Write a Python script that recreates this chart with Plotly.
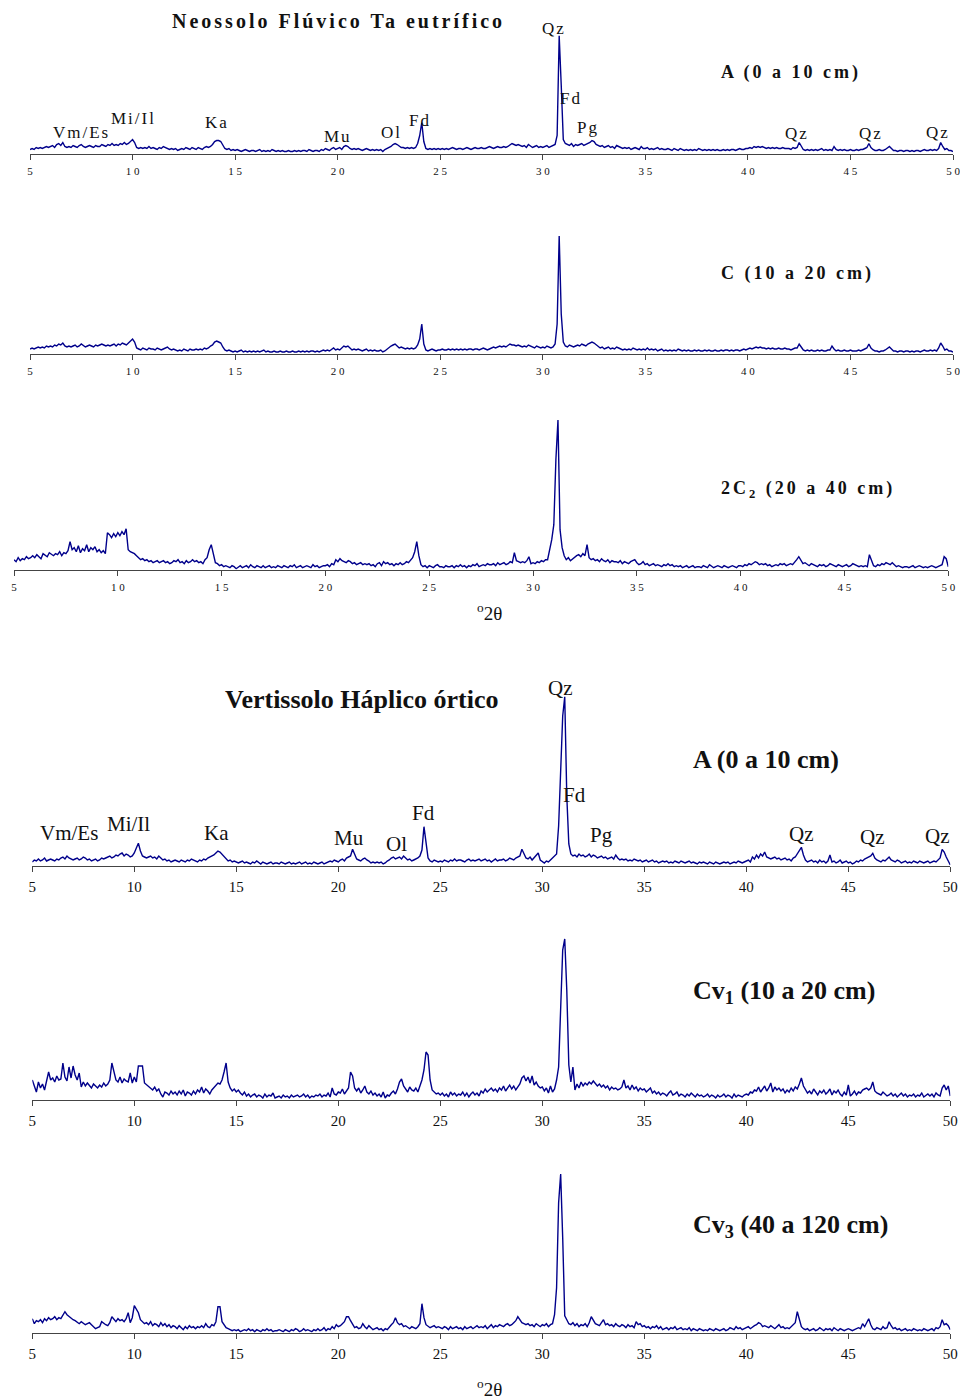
import plotly.graph_objects as go

# Scan grid: 5 to 50 degrees 2-theta, 0.1 degree step
two_theta = [round(5 + 0.1 * i, 1) for i in range(451)]
tick_values = [5, 10, 15, 20, 25, 30, 35, 40, 45, 50]

# Intensities (arbitrary units), one row per degree (x.0 ... x.9), last value = 50.0
neossolo_a = [
    4, 5, 4, 6, 5, 6, 5, 6, 7, 6,
    7, 8, 6, 9, 10, 8, 11, 7, 6, 7,
    6, 8, 7, 6, 8, 9, 7, 6, 7, 8,
    7, 6, 8, 7, 7, 9, 8, 7, 9, 8,
    10, 8, 9, 8, 10, 9, 11, 9, 10, 12,
    14, 11, 6, 5, 6, 5, 6, 5, 7, 5,
    6, 5, 4, 6, 5, 7, 6, 5, 4, 5,
    4, 5, 3, 4, 5, 4, 6, 5, 4, 6,
    5, 4, 6, 5, 4, 6, 7, 6, 7, 9,
    12, 13, 13, 12, 8, 5, 4, 5, 3, 4,
    3, 4, 3, 2, 3, 4, 3, 2, 3, 3,
    2, 3, 4, 2, 3, 2, 3, 2, 4, 3,
    2, 3, 2, 3, 2, 2, 3, 2, 2, 3,
    2, 3, 2, 3, 3, 2, 4, 3, 2, 3,
    3, 2, 4, 3, 5, 4, 3, 5, 6, 4,
    5, 6, 4, 7, 8, 7, 5, 4, 5, 4,
    5, 4, 3, 4, 5, 4, 3, 4, 3, 4,
    3, 4, 2, 4, 5, 6, 7, 9, 10, 9,
    7, 6, 6, 5, 6, 5, 6, 5, 6, 10,
    18, 31, 12, 5, 4, 5, 4, 5, 4, 5,
    4, 5, 4, 5, 4, 5, 6, 5, 4, 5,
    5, 4, 5, 6, 5, 4, 5, 6, 5, 5,
    6, 5, 5, 6, 7, 6, 5, 6, 7, 6,
    6, 7, 6, 7, 9, 10, 9, 8, 9, 8,
    7, 8, 6, 9, 7, 6, 7, 8, 6, 7,
    6, 7, 8, 6, 7, 8, 9, 18, 117.7, 68,
    14, 10, 9, 8, 10, 7, 9, 8, 9, 10,
    8, 9, 10, 11, 13, 12, 9, 8, 7, 8,
    6, 7, 8, 6, 7, 5, 8, 7, 6, 5,
    6, 5, 6, 4, 5, 6, 5, 4, 7, 5,
    5, 6, 4, 5, 4, 5, 6, 4, 5, 4,
    4, 5, 4, 3, 5, 4, 3, 5, 4, 3,
    4, 3, 4, 3, 4, 3, 5, 4, 3, 4,
    3, 4, 3, 4, 3, 4, 3, 3, 4, 3,
    4, 3, 4, 4, 3, 4, 5, 4, 4, 5,
    5, 6, 5, 7, 6, 7, 6, 7, 6, 5,
    6, 5, 6, 5, 6, 5, 5, 6, 5, 5,
    5, 4, 6, 5, 6, 11, 7, 4, 3, 4,
    3, 4, 3, 4, 3, 4, 5, 3, 4, 3,
    4, 3, 7, 4, 3, 4, 3, 4, 3, 3,
    4, 3, 3, 4, 3, 4, 4, 5, 6, 10,
    6, 4, 3, 3, 4, 3, 3, 4, 6, 7,
    5, 3, 3, 2, 3, 3, 2, 3, 3, 2,
    3, 2, 3, 3, 2, 3, 4, 3, 3, 4,
    3, 4, 3, 5, 11, 7, 4, 5, 3, 3,
    2,
]

neossolo_c = [
    5, 6, 5, 6, 7, 6, 7, 6, 8, 7,
    8, 7, 9, 8, 10, 9, 11, 8, 7, 8,
    7, 8, 9, 7, 8, 10, 8, 7, 8, 9,
    8, 7, 9, 8, 9, 10, 9, 8, 9, 8,
    9, 10, 8, 10, 9, 11, 10, 9, 11, 13,
    15, 12, 6, 5, 4, 6, 5, 4, 6, 5,
    5, 4, 6, 5, 4, 5, 6, 7, 5, 4,
    5, 4, 3, 4, 3, 5, 4, 3, 5, 4,
    4, 5, 4, 5, 4, 6, 5, 6, 8, 9,
    12, 13, 12, 11, 7, 4, 3, 4, 3, 2,
    3, 2, 3, 4, 2, 3, 2, 3, 2, 3,
    2, 3, 2, 3, 4, 2, 3, 2, 2, 3,
    2, 2, 3, 2, 2, 3, 2, 2, 3, 2,
    2, 3, 2, 3, 2, 3, 2, 3, 3, 2,
    3, 2, 3, 4, 3, 4, 3, 5, 6, 4,
    5, 4, 6, 8, 7, 8, 6, 4, 5, 4,
    5, 4, 3, 4, 5, 3, 4, 3, 4, 3,
    3, 4, 2, 3, 5, 6, 8, 9, 10, 8,
    6, 7, 6, 5, 6, 5, 6, 5, 6, 9,
    15, 30, 10, 4, 3, 4, 5, 4, 3, 4,
    4, 5, 4, 4, 5, 4, 5, 4, 5, 4,
    5, 4, 5, 4, 5, 5, 4, 5, 5, 4,
    5, 6, 5, 4, 5, 6, 7, 6, 7, 8,
    7, 8, 7, 9, 10, 9, 9, 8, 9, 8,
    7, 8, 7, 9, 8, 7, 6, 8, 7, 6,
    7, 6, 8, 7, 6, 7, 10, 30, 118, 40,
    12, 8, 7, 9, 8, 7, 8, 9, 8, 10,
    9, 8, 10, 11, 12, 11, 9, 7, 6, 7,
    5, 6, 7, 5, 6, 5, 7, 6, 5, 4,
    5, 4, 5, 4, 6, 5, 4, 5, 4, 5,
    4, 6, 4, 5, 4, 5, 3, 4, 5, 3,
    4, 3, 4, 3, 4, 3, 5, 4, 3, 4,
    3, 4, 3, 3, 4, 3, 4, 3, 3, 4,
    3, 4, 3, 3, 4, 3, 3, 4, 3, 4,
    4, 3, 4, 3, 4, 4, 3, 4, 5, 4,
    5, 6, 5, 6, 7, 6, 7, 6, 6, 5,
    6, 5, 6, 5, 5, 6, 5, 5, 6, 5,
    5, 4, 5, 6, 6, 10, 7, 4, 3, 4,
    3, 4, 3, 3, 4, 3, 4, 3, 3, 4,
    4, 8, 5, 3, 4, 3, 3, 4, 3, 3,
    4, 3, 3, 3, 4, 3, 4, 5, 6, 10,
    6, 4, 3, 3, 2, 3, 3, 4, 6, 7,
    5, 3, 3, 2, 3, 3, 2, 3, 3, 2,
    3, 2, 3, 3, 2, 3, 4, 3, 3, 4,
    3, 4, 3, 6, 11, 8, 4, 5, 3, 3,
    2,
]

neossolo_2c2 = [
    10, 8, 12, 9, 11, 10, 13, 11, 12, 14,
    12, 15, 13, 11, 16, 14, 13, 17, 15, 14,
    16, 15, 18, 14, 17, 16, 19, 28, 20, 22,
    18, 24, 17, 21, 19, 25, 18, 22, 20, 23,
    18, 20, 17, 19, 16, 37, 35, 32, 36, 33,
    37, 34, 38, 35, 41, 20, 18, 17, 16, 14,
    12, 10, 11, 9, 10, 8, 9, 7, 8, 9,
    7, 8, 9, 7, 8, 6, 7, 9, 8, 10,
    7, 8, 6, 9, 7, 8, 10, 8, 9, 7,
    8, 6, 10, 12, 20, 25, 15, 7, 6, 4,
    5, 3, 4, 3, 2, 4, 3, 1, 3, 4,
    2, 3, 4, 2, 5, 3, 2, 4, 3, 2,
    4, 2, 3, 4, 2, 3, 2, 4, 3, 2,
    4, 3, 2, 4, 3, 5, 2, 3, 4, 2,
    3, 4, 3, 2, 5, 3, 4, 2, 3, 4,
    4, 5, 3, 6, 5, 10, 8, 11, 9, 8,
    7, 9, 8, 6, 7, 5, 6, 7, 5, 6,
    5, 6, 4, 5, 3, 6, 7, 4, 8, 6,
    7, 5, 6, 4, 6, 5, 7, 5, 6, 8,
    7, 10, 12, 18, 28, 14, 5, 3, 4, 2,
    4, 3, 2, 4, 5, 3, 3, 2, 4, 3,
    3, 4, 2, 4, 3, 5, 3, 4, 2, 4,
    3, 5, 4, 6, 3, 4, 5, 4, 6, 5,
    5, 6, 4, 7, 5, 6, 7, 5, 6, 8,
    7, 17, 9, 8, 7, 8, 7, 9, 13, 6,
    7, 6, 8, 7, 9, 8, 10, 10, 20, 30,
    45, 110, 149.7, 40, 22, 14, 10, 12, 9, 11,
    12, 14, 15, 13, 16, 14, 25, 12, 10, 11,
    9, 10, 8, 11, 9, 8, 10, 7, 9, 8,
    8, 7, 9, 6, 8, 7, 6, 8, 9, 10,
    7, 5, 6, 8, 5, 6, 4, 5, 6, 4,
    5, 4, 3, 5, 4, 6, 4, 5, 3, 4,
    3, 4, 2, 3, 4, 2, 3, 4, 2, 3,
    3, 2, 4, 3, 2, 5, 3, 2, 3, 4,
    3, 2, 4, 3, 2, 3, 4, 3, 2, 4,
    4, 3, 5, 4, 6, 5, 7, 8, 7, 5,
    6, 5, 6, 4, 5, 3, 4, 5, 4, 6,
    5, 6, 4, 5, 6, 5, 7, 10, 13, 9,
    6, 7, 5, 4, 6, 5, 4, 3, 5, 4,
    5, 3, 4, 6, 5, 4, 3, 5, 4, 3,
    4, 5, 3, 4, 6, 5, 4, 3, 4, 3,
    4, 3, 15, 10, 4, 3, 5, 4, 6, 5,
    7, 6, 5, 7, 5, 3, 4, 3, 2, 3,
    3, 2, 3, 4, 2, 3, 4, 3, 2, 3,
    2, 3, 4, 3, 2, 3, 4, 5, 13, 11,
    3,
]

vertissolo_a = [
    4, 6, 5, 7, 5, 6, 8, 5, 6, 7,
    6, 5, 7, 6, 8, 9, 7, 10, 8, 7,
    6, 7, 8, 6, 7, 9, 8, 6, 7, 5,
    6, 7, 5, 6, 8, 7, 8, 9, 10, 8,
    9, 11, 10, 12, 13, 10, 12, 11, 9, 10,
    13, 18, 22.7, 15, 10, 9, 8, 9, 10, 8,
    9, 7, 10, 8, 6, 7, 5, 6, 4, 5,
    6, 5, 4, 6, 5, 4, 6, 5, 7, 6,
    5, 4, 6, 5, 7, 6, 8, 9, 10, 11,
    13, 15, 14, 12, 9, 8, 5, 6, 4, 5,
    4, 3, 4, 5, 3, 4, 3, 2, 4, 3,
    5, 3, 2, 4, 3, 2, 3, 4, 2, 3,
    3, 2, 4, 3, 2, 3, 4, 2, 3, 2,
    3, 4, 2, 3, 4, 2, 3, 2, 4, 3,
    2, 3, 4, 2, 3, 4, 5, 4, 6, 5,
    4, 6, 7, 5, 8, 9, 10, 16.7, 11, 7,
    6, 5, 7, 8, 6, 5, 3, 4, 3, 4,
    3, 4, 2, 3, 5, 6, 8, 9, 7, 8,
    9, 7, 10, 8, 6, 7, 5, 6, 7, 8,
    10, 16, 39.3, 25, 8, 5, 4, 6, 5, 4,
    5, 4, 6, 5, 4, 6, 5, 7, 5, 6,
    6, 5, 4, 6, 7, 5, 6, 5, 6, 7,
    5, 6, 7, 5, 6, 4, 6, 7, 5, 6,
    6, 7, 5, 6, 8, 7, 6, 8, 9, 10,
    16.7, 12, 8, 7, 9, 6, 8, 10, 13, 6,
    4, 3, 5, 4, 6, 8, 10, 12, 40, 95,
    150, 169.3, 70, 22, 12, 10, 11, 9, 12, 10,
    11, 9, 10, 12, 9, 11, 10, 8, 9, 10,
    8, 9, 7, 8, 9, 7, 11, 8, 6, 7,
    6, 7, 5, 6, 5, 7, 6, 5, 6, 4,
    5, 6, 4, 5, 6, 4, 5, 3, 4, 5,
    4, 5, 3, 4, 3, 5, 4, 3, 5, 4,
    3, 4, 5, 3, 4, 3, 2, 4, 3, 4,
    3, 2, 4, 3, 2, 4, 3, 2, 3, 4,
    3, 4, 2, 3, 4, 3, 5, 4, 3, 4,
    5, 6, 4, 9, 7, 11, 8, 12, 10, 14,
    9, 8, 7, 8, 9, 7, 8, 6, 7, 8,
    6, 7, 5, 8, 9, 12, 15, 18.7, 11, 6,
    4, 5, 6, 4, 5, 3, 6, 4, 5, 3,
    5, 11, 4, 5, 3, 4, 6, 3, 4, 5,
    3, 4, 2, 3, 5, 4, 6, 5, 7, 8,
    9, 10, 12.7, 8, 6, 5, 4, 6, 5, 7,
    9, 6, 5, 4, 6, 5, 3, 4, 5, 3,
    4, 3, 5, 4, 3, 5, 4, 3, 4, 5,
    3, 4, 5, 4, 6, 8, 16.7, 14, 9, 5,
    1,
]

vertissolo_cv1 = [
    20, 14, 8, 18, 12, 16, 10, 19, 28, 20,
    22, 18, 24, 20, 21, 37, 23, 19, 33, 22,
    34, 25, 20, 27, 13, 18, 14, 17, 15, 12,
    16, 14, 12, 15, 13, 17, 14, 16, 20, 37,
    27, 20, 18, 23, 17, 21, 19, 18, 27, 17,
    23, 18, 34, 34, 34, 17, 15, 13, 11, 10,
    13, 9, 11, 6, 3, 8, 7, 5, 9, 6,
    8, 5, 9, 6, 10, 4, 8, 7, 5, 9,
    6, 10, 8, 13, 7, 11, 9, 6, 10, 12,
    15, 17, 16, 20, 28, 37, 18, 12, 9, 11,
    8, 10, 7, 5, 8, 4, 6, 3, 5, 6,
    3, 5, 4, 2, 6, 3, 5, 4, 7, 2,
    3, 4, 2, 5, 3, 4, 2, 5, 3, 4,
    5, 3, 4, 6, 3, 5, 2, 4, 3, 5,
    4, 6, 3, 5, 4, 7, 3, 12, 6, 5,
    8, 7, 11, 6, 9, 12, 28, 24, 12, 9,
    12, 7, 10, 14, 8, 6, 9, 5, 7, 4,
    6, 3, 8, 2, 5, 4, 7, 9, 6, 11,
    18, 21, 14, 11, 8, 13, 10, 9, 12, 8,
    15, 20, 30, 48, 45, 20, 10, 8, 6, 7,
    5, 7, 4, 6, 3, 8, 5, 7, 4, 6,
    5, 8, 4, 7, 3, 6, 8, 5, 7, 4,
    9, 7, 11, 8, 10, 12, 9, 11, 8, 12,
    10, 14, 9, 12, 15, 11, 14, 10, 13, 16,
    22, 24, 19, 23, 17, 24, 15, 18, 14, 12,
    13, 9, 12, 7, 14, 8, 11, 20, 33, 100,
    150, 161, 110, 35, 18, 33, 10, 16, 12, 18,
    14, 17, 15, 18, 16, 19, 17, 14, 16, 13,
    15, 12, 14, 10, 13, 11, 12, 10, 11, 13,
    20, 12, 14, 10, 15, 11, 13, 9, 12, 10,
    11, 8, 10, 12, 7, 9, 6, 8, 5, 7,
    6, 4, 7, 9, 5, 6, 8, 4, 6, 5,
    3, 6, 4, 7, 5, 3, 6, 4, 5, 3,
    4, 6, 3, 5, 4, 2, 5, 3, 4, 6,
    3, 5, 4, 2, 6, 3, 5, 4, 3, 5,
    6, 5, 8, 7, 10, 9, 13, 8, 11, 14,
    9, 12, 17, 8, 13, 10, 12, 9, 11, 7,
    10, 8, 12, 9, 13, 11, 16, 22, 14, 10,
    7, 9, 6, 11, 8, 5, 9, 7, 10, 6,
    8, 11, 5, 9, 7, 10, 6, 4, 8, 5,
    15, 4, 6, 9, 5, 8, 7, 10, 11, 12,
    10, 12, 18, 9, 7, 6, 5, 8, 6, 4,
    5, 7, 4, 6, 3, 5, 7, 4, 6, 3,
    5, 4, 6, 3, 5, 4, 7, 3, 5, 6,
    4, 6, 3, 7, 5, 4, 12, 15, 10, 14,
    4,
]

vertissolo_cv3 = [
    14, 9, 12, 11, 13, 10, 14, 12, 15, 13,
    14, 16, 13, 15, 14, 17, 21, 18, 16, 14,
    13, 12, 10, 9, 11, 9, 8, 9, 10, 8,
    6, 4, 5, 6, 11, 9, 8, 7, 10, 16,
    13, 11, 14, 12, 13, 11, 14, 20, 10, 15,
    27, 24, 20, 13, 11, 9, 10, 8, 11, 7,
    9, 8, 6, 10, 7, 9, 6, 8, 5, 7,
    6, 4, 7, 5, 3, 6, 4, 7, 5, 6,
    4, 6, 5, 7, 5, 9, 6, 5, 8, 7,
    11, 26, 26, 11, 8, 5, 4, 3, 2, 3,
    2, 3, 1, 2, 3, 2, 4, 2, 3, 1,
    3, 2, 1, 3, 2, 4, 2, 3, 1, 2,
    2, 3, 2, 1, 3, 2, 1, 3, 2, 4,
    3, 1, 2, 4, 2, 3, 2, 1, 3, 2,
    4, 2, 3, 5, 2, 4, 3, 6, 4, 8,
    6, 7, 9, 11, 16, 16, 12, 8, 5, 6,
    4, 5, 9, 6, 4, 7, 5, 3, 4, 5,
    3, 4, 2, 4, 3, 6, 8, 10, 15, 10,
    8, 9, 6, 7, 5, 4, 6, 5, 4, 6,
    9, 29, 15, 8, 6, 5, 6, 7, 5, 6,
    5, 4, 6, 5, 3, 6, 4, 5, 6, 4,
    5, 3, 6, 4, 5, 6, 4, 6, 7, 5,
    6, 5, 7, 4, 6, 8, 5, 7, 6, 8,
    7, 6, 8, 9, 7, 8, 10, 12, 16, 13,
    10, 9, 8, 9, 7, 8, 6, 9, 7, 6,
    8, 7, 9, 6, 8, 9, 18, 45, 130, 158.7,
    95, 17, 13, 9, 8, 10, 7, 9, 6, 8,
    7, 9, 6, 10, 16, 12, 9, 8, 7, 10,
    13, 8, 9, 7, 8, 6, 9, 7, 6, 8,
    7, 5, 8, 6, 7, 5, 11, 8, 9, 6,
    7, 5, 6, 4, 6, 5, 7, 4, 6, 3,
    4, 5, 3, 5, 4, 6, 3, 4, 5, 3,
    4, 3, 5, 2, 4, 3, 2, 4, 3, 2,
    3, 2, 4, 3, 2, 4, 3, 2, 3, 4,
    2, 3, 5, 4, 3, 6, 4, 5, 3, 4,
    5, 6, 4, 6, 7, 8, 10, 9, 6, 7,
    6, 5, 7, 5, 4, 6, 8, 5, 6, 4,
    5, 4, 6, 8, 10, 21, 12, 6, 4, 3,
    4, 2, 3, 4, 2, 3, 5, 3, 2, 4,
    3, 4, 2, 5, 3, 2, 4, 3, 2, 3,
    4, 3, 2, 3, 4, 5, 4, 9, 6, 10,
    14, 8, 4, 3, 5, 4, 3, 6, 4, 5,
    11, 7, 4, 5, 3, 4, 2, 3, 4, 2,
    3, 2, 4, 3, 2, 3, 2, 4, 3, 2,
    3, 4, 2, 5, 4, 6, 13, 8, 9, 7,
    3,
]

# Mineral labels: (text, 2-theta, intensity level)
neossolo_minerals = [
    ("Vm/Es", 7.52, 20.5), ("Mi/Il", 10.07, 34.5), ("Ka", 14.11, 30.8),
    ("Mu", 20.01, 16.8), ("Ol", 22.64, 20.8), ("Fd", 24.01, 32.8),
    ("Qz", 30.54, 125.2), ("Fd", 31.39, 55.2), ("Pg", 32.19, 26.2),
    ("Qz", 42.40, 19.5), ("Qz", 45.98, 20.2), ("Qz", 49.28, 20.8),
]
vertissolo_minerals = [
    ("Vm/Es", 6.79, 32.7), ("Mi/Il", 9.71, 42.0), ("Ka", 14.04, 32.7),
    ("Mu", 20.51, 28.3), ("Ol", 22.83, 22.0), ("Fd", 24.17, 52.7),
    ("Qz", 30.87, 177.7), ("Fd", 31.60, 71.0), ("Pg", 32.89, 31.0),
    ("Qz", 42.70, 32.0), ("Qz", 46.17, 28.7), ("Qz", 49.37, 30.0),
]

profile_titles = ["Neossolo Flúvico Ta eutrífico", "Vertissolo Háplico órtico"]
horizon_labels = [
    "A (0 a 10 cm)", "C (10 a 20 cm)", "2C<sub>2</sub> (20 a 40 cm)",
    "A (0 a 10 cm)", "Cv<sub>1</sub> (10 a 20 cm)", "Cv<sub>3</sub> (40 a 120 cm)",
]
series = [neossolo_a, neossolo_c, neossolo_2c2,
          vertissolo_a, vertissolo_cv1, vertissolo_cv3]

W, H = 960, 1400
NAVY = "#00008B"
AXIS = "#444444"
SERIF = "Liberation Serif, Times New Roman, serif"


def spaced(text, px):
    return f'<span style="letter-spacing:{px}px">{text}</span>'


# Panel geometry in pixels: left (5 deg), right (50 deg), axis line y, plot height
panels = [
    dict(x0=30, x1=953, base=153.5, h=150, small=True),
    dict(x0=30, x1=953, base=354, h=150, small=True),
    dict(x0=14, x1=948.3, base=569.7, h=160, small=True),
    dict(x0=32.3, x1=950.3, base=866, h=195, small=False),
    dict(x0=32.3, x1=950.3, base=1100, h=175, small=False),
    dict(x0=32.3, x1=950.3, base=1332.7, h=175, small=False),
]

fig = go.Figure()
layout = {}
annotations = []

for i, (p, vals) in enumerate(zip(panels, series), start=1):
    xa, ya = f"x{i}", f"y{i}"
    fig.add_trace(go.Scatter(
        x=two_theta, y=vals, xaxis=xa, yaxis=ya, mode="lines",
        line=dict(color=NAVY, width=1.4), hoverinfo="skip", showlegend=False,
    ))
    if p["small"]:
        ticktext = [" ".join(str(v)) for v in tick_values]
        tfont = dict(family=SERIF, size=11, color="#111")
    else:
        ticktext = [str(v) for v in tick_values]
        tfont = dict(family=SERIF, size=15, color="#111")
    layout[f"xaxis{i}"] = dict(
        domain=[p["x0"] / W, p["x1"] / W], range=[5, 50], anchor=ya,
        automargin=False, ticklabeloverflow="allow",
        showline=True, linecolor=AXIS, linewidth=1.2, ticks="outside",
        ticklen=5, tickcolor=AXIS, tickwidth=1, tickvals=tick_values,
        ticktext=ticktext, tickfont=tfont, showgrid=False, zeroline=False,
        ticklabelstandoff=2,
    )
    layout[f"yaxis{i}"] = dict(
        domain=[1 - p["base"] / H, 1 - (p["base"] - p["h"]) / H],
        range=[0, p["h"]], anchor=xa, visible=False, automargin=False,
    )

# Mineral identification labels
for i, minerals, size, track in [(1, neossolo_minerals, 17, 2),
                                 (4, vertissolo_minerals, 21, 0)]:
    for name, tt, lvl in minerals:
        annotations.append(dict(
            x=tt, y=lvl, xref=f"x{i}", yref=f"y{i}", showarrow=False,
            text=spaced(name, track) if track else name,
            font=dict(family=SERIF, size=size, color="#111"),
            xanchor="center", yanchor="middle",
        ))


def paper(x, y):
    return x / W, 1 - y / H


# Profile titles
for text, (cx, cy), size, track in [
    (profile_titles[0], (338.5, 21), 20, 3),
    (profile_titles[1], (361, 699), 26, 0),
]:
    px_, py_ = paper(cx, cy)
    annotations.append(dict(
        x=px_, y=py_, xref="paper", yref="paper", showarrow=False,
        text="<b>" + (spaced(text, track) if track else text) + "</b>",
        font=dict(family=SERIF, size=size, color="#111"),
        xanchor="center", yanchor="middle",
    ))

# Horizon labels
label_pos = [(718.5, 72.7), (718.5, 273.3), (718.5, 490),
             (690.5, 759), (690.5, 992), (690.5, 1226)]
for k, (text, (lx, ly)) in enumerate(zip(horizon_labels, label_pos)):
    px_, py_ = paper(lx, ly)
    small = k < 3
    annotations.append(dict(
        x=px_, y=py_, xref="paper", yref="paper", showarrow=False,
        text="<b>" + (spaced(text, 3) if small else text) + "</b>",
        font=dict(family=SERIF, size=18 if small else 26, color="#111"),
        xanchor="left", yanchor="middle",
    ))

# Axis titles (degrees 2-theta)
for ty in (612, 1388):
    px_, py_ = paper(490, ty)
    annotations.append(dict(
        x=px_, y=py_, xref="paper", yref="paper", showarrow=False,
        text="<sup>o</sup>2θ", font=dict(family=SERIF, size=19, color="#111"),
        xanchor="center", yanchor="middle",
    ))

fig.update_layout(
    **layout,
    annotations=annotations,
    width=W, height=H,
    margin=dict(l=0, r=0, t=0, b=0),
    paper_bgcolor="white", plot_bgcolor="white",
    showlegend=False,
)

fig.write_html("out.html", config={"displayModeBar": False})
